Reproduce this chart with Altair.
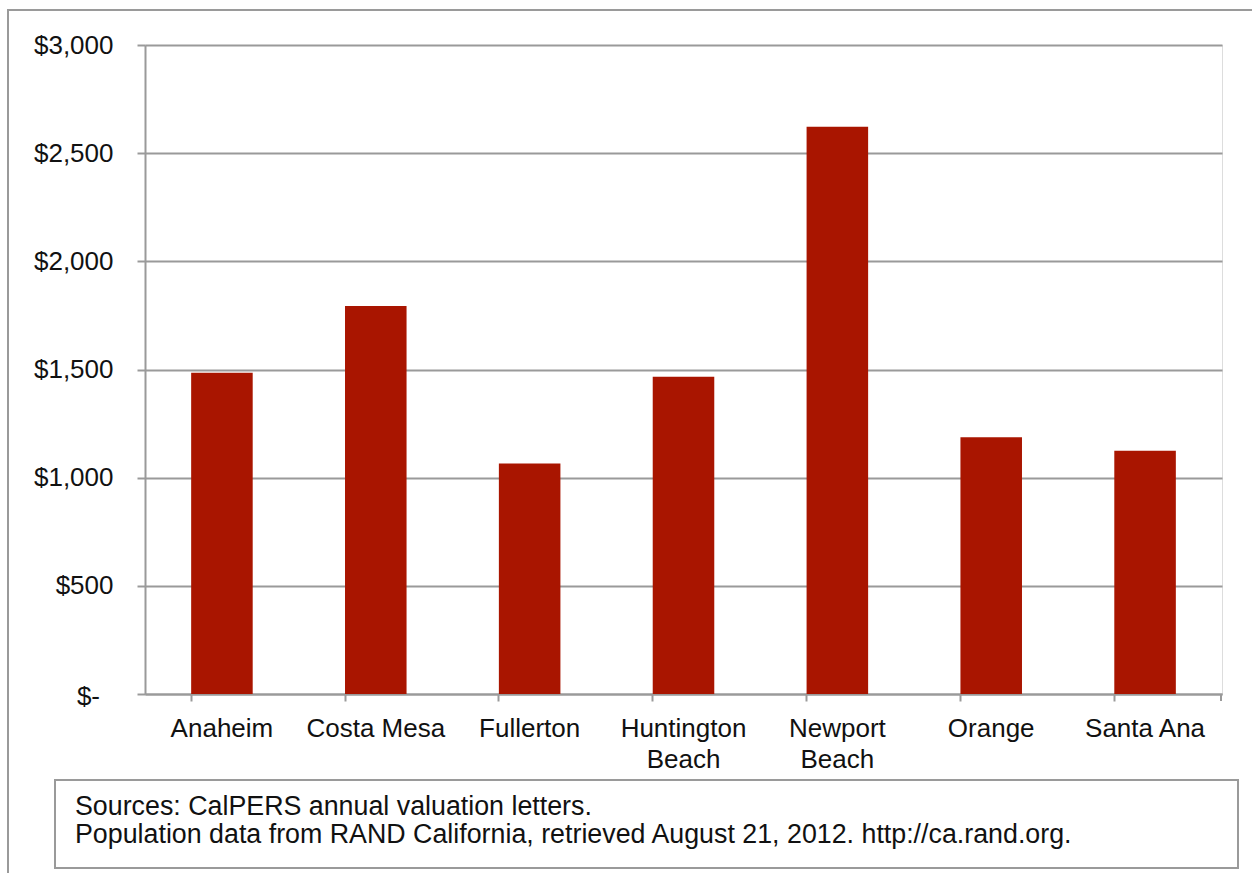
import altair as alt
import pandas as pd

# Annual pension cost per resident, by city
cities = ["Anaheim", "Costa Mesa", "Fullerton", "Huntington Beach",
          "Newport Beach", "Orange", "Santa Ana"]
cost = [1485, 1794, 1065, 1467, 2622, 1187, 1124]

y_ticks = [0, 500, 1000, 1500, 2000, 2500, 3000]
zero_label = ["$-"]
source_lines = [
    "Sources: CalPERS annual valuation letters.",
    "Population data from RAND California, retrieved August 21, 2012. http://ca.rand.org.",
]

W, H = 1077, 649
GRID = "#9a9a9a"
FONT = "Liberation Sans"
FS = 26
NOTE_FS = 26.8

df = pd.DataFrame({"city": cities, "cost": cost})

x_enc = alt.X(
    "city:N", sort=cities, title=None,
    scale=alt.Scale(paddingInner=0.6, paddingOuter=0.3),
    axis=alt.Axis(
        labelAngle=0, bandPosition=0, ticks=True, tickSize=7, tickColor=GRID,
        tickWidth=2, domain=True, domainColor=GRID, domainWidth=2, grid=False,
        labelFont=FONT, labelFontSize=FS, labelColor="#111", labelPadding=14,
        labelLineHeight=31, labelBaseline="top", labelAlign="center",
        labelExpr="indexof(['Huntington Beach','Newport Beach'], datum.value) >= 0 ? split(datum.value, ' ') : datum.value",
    ),
)
y_scale = alt.Scale(domain=[0, 3000], nice=False)
y_enc = alt.Y(
    "cost:Q", title=None, scale=y_scale,
    axis=alt.Axis(
        values=y_ticks, grid=True, gridColor=GRID, gridWidth=2,
        domain=True, domainColor=GRID, domainWidth=2,
        ticks=True, tickSize=8, tickColor=GRID, tickWidth=2,
        labelFont=FONT, labelFontSize=FS, labelColor="#111", labelPadding=24,
        # the zero label is drawn separately, set in from the others
        labelExpr="datum.value == 0 ? '' : '$' + format(datum.value, ',')",
    ),
)

bars = alt.Chart(df).mark_bar(color="#a91500").encode(x=x_enc, y=y_enc)

zero_df = pd.DataFrame({"cost": [0], "t": zero_label})
zero_text = alt.Chart(zero_df).mark_text(
    align="right", baseline="middle", font=FONT, fontSize=FS, color="#111", dy=3
).encode(x=alt.value(-45), y=alt.Y("cost:Q", scale=y_scale), text="t:N")

# closing tick at the right end of the category axis
end_tick = alt.Chart(df).mark_rule(color=GRID, strokeWidth=2).encode(
    x=alt.value(W - 1), y=alt.value(H), y2=alt.value(H + 7)
)

# outer frame (runs off the right and bottom of the page)
frame = alt.Chart(df).mark_rect(
    fill=None, stroke=GRID, strokeWidth=2, filled=False
).encode(
    x=alt.value(-137), x2=alt.value(W + 60),
    y=alt.value(-35), y2=alt.value(H + 60 + 179),
)

# source note box
note_box = alt.Chart(df).mark_rect(
    fill="white", stroke=GRID, strokeWidth=2
).encode(
    x=alt.value(-90), x2=alt.value(1093),
    y=alt.value(735), y2=alt.value(823),
)

note_df = pd.DataFrame({"line": source_lines})
note1 = alt.Chart(note_df.iloc[[0]]).mark_text(
    align="left", baseline="alphabetic", font=FONT, fontSize=NOTE_FS, color="#111"
).encode(x=alt.value(-70), y=alt.value(770), text="line:N")
note2 = alt.Chart(note_df.iloc[[1]]).mark_text(
    align="left", baseline="alphabetic", font=FONT, fontSize=NOTE_FS, color="#111"
).encode(x=alt.value(-70), y=alt.value(798), text="line:N")

chart = alt.layer(frame, bars, zero_text, end_tick, note_box, note1, note2).properties(
    width=W, height=H,
    autosize=alt.AutoSizeParams(type="none"),
    padding={"left": 145, "top": 45, "right": 30, "bottom": 179},
).configure_view(stroke=None).configure(background="white")

chart.save("out.html", embed_options={"renderer": "svg", "actions": False})
